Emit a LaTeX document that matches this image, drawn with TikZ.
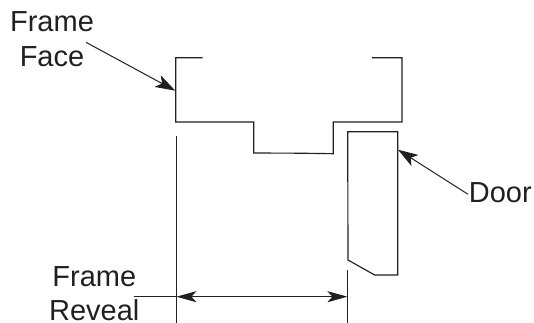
\documentclass[tikz,border=0pt]{standalone}
\usepackage{fontspec}
\setmainfont{Liberation Sans}
\usetikzlibrary{arrows.meta}
\definecolor{ink}{HTML}{231F20}
\tikzset{
  every path/.style={line cap=butt},
  outline/.style={draw=ink,line width=1.15pt,line join=miter},
  leader/.style={draw=ink,line width=1pt},
  pointer/.style={leader,-{Stealth[length=20pt,width=13pt,inset=5pt]}},
  dimline/.style={leader,{Stealth[length=20pt,width=11pt,inset=5pt]}-{Stealth[length=20pt,width=11pt,inset=5pt]}},
  lab/.style={text=ink,font=\fontsize{29}{29}\selectfont,inner sep=0pt,outer sep=0pt,anchor=base}
}
\begin{document}
\begin{tikzpicture}[x=1pt,y=-1pt]
\useasboundingbox (0,0) rectangle (534,323);
% labels
\node[lab] (frameface1) at (52,32) {Frame};
\node[lab] (frameface2) at (52,66.7) {Face};
\node[lab] (framereveal1) at (94.3,286.7) {Frame};
\node[lab] (framereveal2) at (94.3,320) {Reveal};
\node[lab] (doorlabel) at (500.3,202.7) {Door};
% frame profile
\draw[outline] (202.7,57.7) -- (175.8,57.7) -- (175.8,122) -- (253.7,122) -- (253.7,153)
  -- (300,153.2) -- (333.3,153.7) -- (333.3,122) -- (402,122) -- (402,57.7) -- (372,57.7);
% door
\coordinate (doorHit) at (398,149.7);
\coordinate (faceHit) at (175.3,90.7);
\draw[outline] (347.7,131.7) -- (397.8,131.7) -- (397.8,275) -- (374.7,275) -- (348,260) -- cycle;
% extension lines
\coordinate (extLa) at (176.4,136);
\coordinate (extLb) at (176.4,323);
\coordinate (extRa) at (347.4,270);
\coordinate (extRb) at (347.4,323);
\draw[leader] (extLa) -- (extLb);
\draw[leader] (extRa) -- (extRb);
% dimension
\coordinate (dimStart) at (133.5,296.7);
\coordinate (dimL) at (176.4,296.7);
\coordinate (dimR) at (347.4,296.7);
\draw[leader] (dimStart) -- (dimL);
\draw[dimline] (dimL) -- (dimR);
% pointers
\coordinate (faceStart) at (86,42.3);
\coordinate (doorStart) at (468,194.3);
\draw[pointer] (faceStart) -- (faceHit);
\draw[pointer] (doorStart) -- (doorHit);
\end{tikzpicture}
\end{document}
